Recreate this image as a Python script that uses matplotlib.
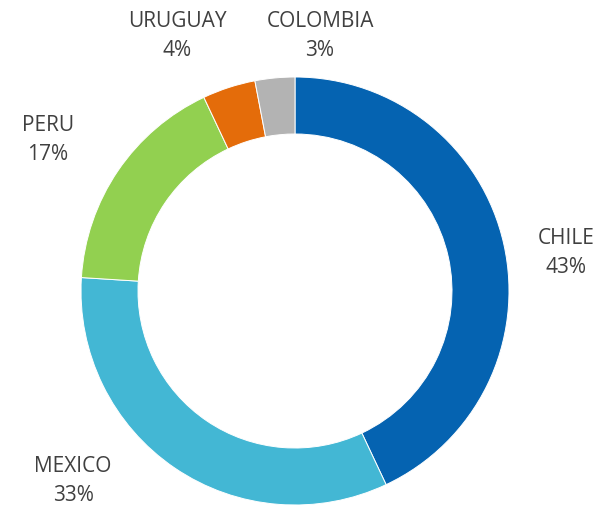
import matplotlib
matplotlib.use("Agg")
import matplotlib.pyplot as plt

countries = ["CHILE", "MEXICO", "PERU", "URUGUAY", "COLOMBIA"]
shares = [43, 33, 17, 4, 3]
colors = ["#0563B1", "#43B7D4", "#92D050", "#E46C0A", "#B3B3B3"]
# label centres in pixel coords (x, y from top)
label_pos = [(566, 253), (73, 481), (48, 140), (177, 36), (320, 36)]

W, H = 608, 507
fig = plt.figure(figsize=(W / 100, H / 100), dpi=100)
ax = fig.add_axes([0, 0, 1, 1])

ax.pie(shares, colors=colors, startangle=90, counterclock=False,
       radius=214, center=(295, H - 291), frame=True,
       wedgeprops=dict(width=57, edgecolor="white", linewidth=0.7))
ax.set_xlim(0, W)
ax.set_ylim(0, H)
ax.set_aspect("equal")
ax.axis("off")

for name, val, (x, y) in zip(countries, shares, label_pos):
    ax.text(x, H - y, f"{name}\n{val}%", ha="center", va="center",
            fontsize=15, color="#404040", family="Open Sans", linespacing=1.45)

fig.savefig("out.png", dpi=100)
